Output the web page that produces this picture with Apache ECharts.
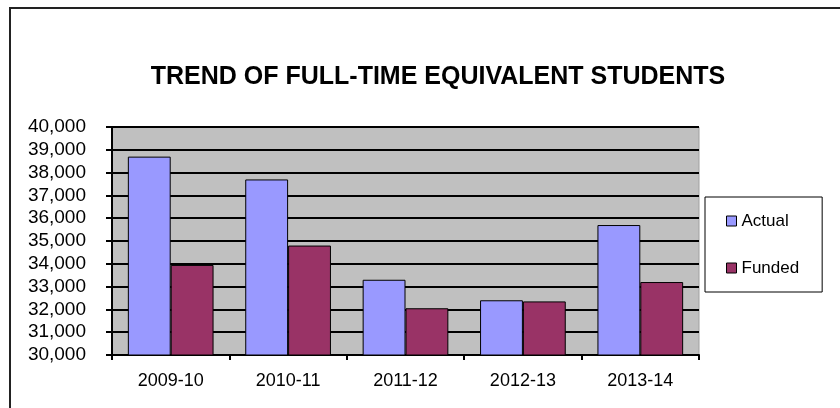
<!DOCTYPE html>
<html>
<head>
<meta charset="utf-8">
<script src="https://cdn.jsdelivr.net/npm/echarts@6/dist/echarts.min.js"></script>
<style>
  html, body { margin: 0; padding: 0; background: #fff; }
  #chart { width: 840px; height: 408px; }
</style>
</head>
<body>
<div id="chart"></div>
<script>
var years = ['2009-10', '2010-11', '2011-12', '2012-13', '2013-14'];
var actual = [38700, 37700, 33300, 32400, 35700];
var funded = [33950, 34800, 32050, 32350, 33200];

var font = 'Liberation Sans, Arial, sans-serif';
var myChart = echarts.init(document.getElementById('chart'));

var option = {
    backgroundColor: '#fff',
    animation: false,
    title: {
        text: 'TREND OF FULL-TIME EQUIVALENT STUDENTS',
        left: 433,
        top: 60,
        textAlign: 'center',
        textStyle: {
            fontFamily: font,
            fontSize: 25,
            fontWeight: 'bold',
            color: '#000'
        }
    },
    graphic: [{
        type: 'rect',
        shape: { x: 10, y: 8, width: 900, height: 500 },
        style: { fill: 'none', stroke: '#222', lineWidth: 2 },
        z: -1
    }],
    legend: {
        orient: 'vertical',
        left: 705,
        top: 197,
        padding: [14, 23, 14, 21],
        itemWidth: 10,
        itemHeight: 10,
        itemGap: 27,
        borderColor: '#000',
        borderWidth: 1,
        backgroundColor: '#fff',
        icon: 'rect',
        itemStyle: { borderColor: '#000', borderWidth: 1 },
        textStyle: { fontFamily: font, fontSize: 17, color: '#000', lineHeight: 20 },
        data: ['Actual', 'Funded']
    },
    grid: {
        left: 112,
        right: 141,
        top: 127,
        bottom: 53,
        show: true,
        backgroundColor: '#c0c0c0',
        borderColor: '#a0a0a0',
        borderWidth: 1
    },
    xAxis: {
        type: 'category',
        data: years,
        axisLine: { lineStyle: { color: '#000', width: 2 } },
        axisTick: { show: true, length: 5, lineStyle: { color: '#000', width: 2 } },
        axisLabel: { fontFamily: font, fontSize: 18, color: '#000', margin: 17 }
    },
    yAxis: {
        type: 'value',
        min: 30000,
        max: 40000,
        interval: 1000,
        axisLine: { show: true, lineStyle: { color: '#000', width: 2 } },
        axisTick: { show: true, length: 6, lineStyle: { color: '#000', width: 2 } },
        splitLine: { lineStyle: { color: '#000', width: 2 } },
        axisLabel: {
            fontFamily: font,
            fontSize: 19,
            color: '#000',
            margin: 26,
            formatter: function (v) {
                return v.toLocaleString('en-US');
            }
        }
    },
    series: [{
        name: 'Actual',
        type: 'bar',
        data: actual,
        barGap: '0%',
        barCategoryGap: '27%',
        itemStyle: { color: '#9999ff', borderColor: '#000', borderWidth: 1 }
    }, {
        name: 'Funded',
        type: 'bar',
        data: funded,
        barGap: '0%',
        barCategoryGap: '27%',
        itemStyle: { color: '#993366', borderColor: '#000', borderWidth: 1 }
    }]
};

option && myChart.setOption(option);
window.addEventListener('resize', function () {
    myChart.resize();
});
</script>
</body>
</html>
